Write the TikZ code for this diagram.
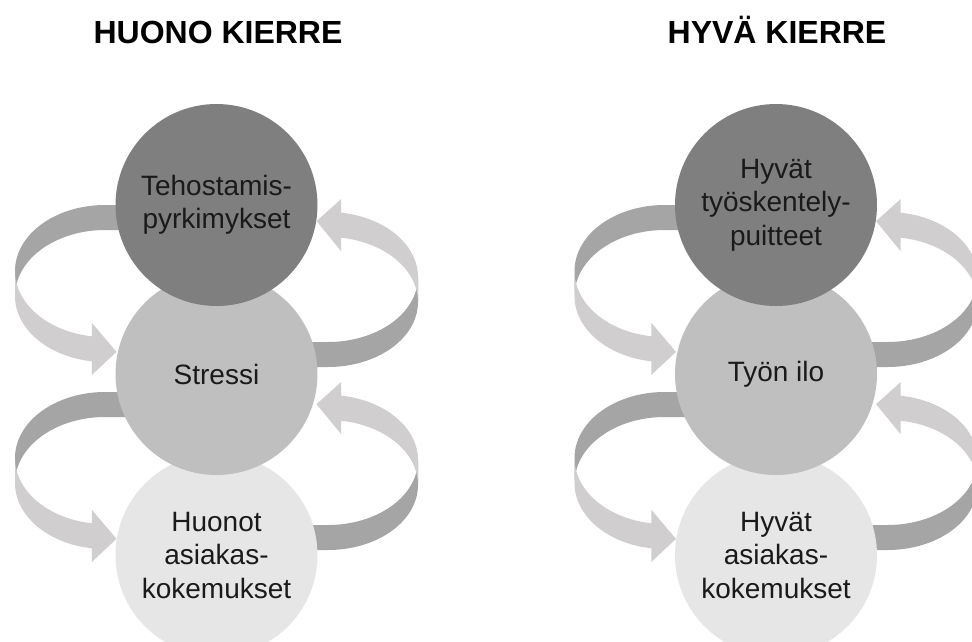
\documentclass[tikz,border=0pt]{standalone}
\usepackage{fontspec}
\setmainfont{Liberation Sans}
\definecolor{cTop}{HTML}{7F7F7F}
\definecolor{cMid}{HTML}{BFBFBF}
\definecolor{cBot}{HTML}{E6E6E6}
\definecolor{bandDark}{HTML}{A5A5A5}
\definecolor{bandLight}{HTML}{D0CECE}
\definecolor{ink}{HTML}{1A1A1A}
\tikzset{
  ball/.style={circle, minimum size=202pt, inner sep=0pt, align=center, text=ink,
    font=\fontsize{28}{33.5}\selectfont},
  headline/.style={font=\bfseries\fontsize{32}{38}\selectfont, text=black, anchor=base},
}
% left-side loop: dark back part (top), light front part (bottom) with head pointing right
\newcommand{\LoopLeft}[5]{%
  \pgfmathsetmacro{\lpEx}{#1+#3*cos(#5)}%
  \pgfmathsetmacro{\lpEy}{#2-#4*sin(#5)}%
  \fill[bandDark] ({#1+30},{#2-#4}) -- plot[domain=90:180,samples=40] ({#1+#3*cos(\x)},{#2-#4*sin(\x)})
     -- ({#1-#3},{#2+25}) -- plot[domain=180:90,samples=40] ({#1+#3*cos(\x)},{#2-#4*sin(\x)+25})
     -- ({#1+30},{#2-#4+25}) -- cycle;
  \fill[bandLight] plot[domain=180:#5,samples=40] ({#1+#3*cos(\x)},{#2-#4*sin(\x)})
     -- plot[domain=#5:180,samples=40] ({#1+#3*cos(\x)},{#2-#4*sin(\x)+25}) -- cycle;
  \fill[bandLight] ({\lpEx-0.6},{\lpEy-13.5}) -- ({\lpEx+24},{\lpEy+15.5}) -- ({\lpEx-0.6},{\lpEy+38.5}) -- cycle;
}
% right-side loop: dark back part (bottom), light front part (top) with head pointing left
\newcommand{\LoopRight}[5]{%
  \pgfmathsetmacro{\lpEx}{#1+#3*cos(#5)}%
  \pgfmathsetmacro{\lpEy}{#2-#4*sin(#5)}%
  \fill[bandDark] ({#1-30},{#2+#4}) -- plot[domain=270:360,samples=40] ({#1+#3*cos(\x)},{#2-#4*sin(\x)})
     -- ({#1+#3},{#2+25}) -- plot[domain=360:270,samples=40] ({#1+#3*cos(\x)},{#2-#4*sin(\x)+25})
     -- ({#1-30},{#2+#4+25}) -- cycle;
  \fill[bandLight] plot[domain=0:#5,samples=40] ({#1+#3*cos(\x)},{#2-#4*sin(\x)})
     -- plot[domain=#5:0,samples=40] ({#1+#3*cos(\x)},{#2-#4*sin(\x)+25}) -- cycle;
  \fill[bandLight] ({\lpEx+0.6},{\lpEy-13.5}) -- ({\lpEx-24},{\lpEy+8.5}) -- ({\lpEx+0.6},{\lpEy+38.5}) -- cycle;
}
\begin{document}
\begin{tikzpicture}[x=1pt,y=-1pt]
\useasboundingbox[fill=white] (0,0) rectangle (972,641);
\clip (0,0) rectangle (972,641);

% ---------- left cycle ----------
\LoopLeft{105}{271}{90}{66}{262}
\LoopLeft{105}{458}{90}{66}{262}
\LoopRight{328}{277}{90}{65}{82}
\LoopRight{328}{460}{90}{65}{82}

\node[ball, fill=cBot] (l3) at (216.5,555) {Huonot\\asiakas-\\kokemukset};
\node[ball, fill=cMid] (l2) at (216.5,374) {Stressi};
\node[ball, fill=cTop] (l1) at (216.5,205) {Tehostamis-\\pyrkimykset};
\node[headline] (tl) at (218,43) {HUONO KIERRE};

% ---------- right cycle ----------
\LoopLeft{664.5}{271}{90}{66}{262}
\LoopLeft{664.5}{458}{90}{66}{262}
\LoopRight{887.5}{277}{90}{65}{82}
\LoopRight{887.5}{460}{90}{65}{82}

\node[ball, fill=cBot] (r3) at (776,555) {Hyvät\\asiakas-\\kokemukset};
\node[ball, fill=cMid] (r2) at (776,374) {Työn ilo};
\node[ball, fill=cTop] (r1) at (776,205) {Hyvät\\työskentely-\\puitteet};
\node[headline] (tr) at (777,43) {HYVÄ KIERRE};
\end{tikzpicture}
\end{document}
